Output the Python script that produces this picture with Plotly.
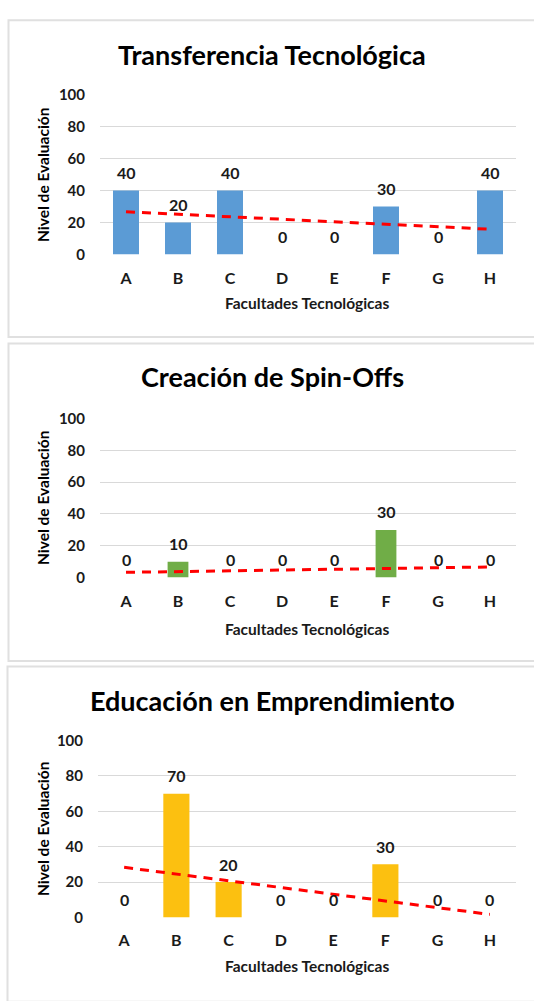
import plotly.graph_objects as go

W, H = 534, 1001

categories = ["A", "B", "C", "D", "E", "F", "G", "H"]
titles = ["Transferencia Tecnológica", "Creación de Spin-Offs", "Educación en Emprendimiento"]
values_transferencia = [40, 20, 40, 0, 0, 30, 0, 40]
values_spinoffs = [0, 10, 0, 0, 0, 30, 0, 0]
values_educacion = [0, 70, 20, 0, 0, 30, 0, 0]
# trendline values at first and last category
trend_transferencia = [26.7, 15.8]
trend_spinoffs = [3.3, 6.7]
trend_educacion = [28.3, 1.7]
y_ticks = [0, 20, 40, 60, 80, 100]
x_title = "Facultades Tecnológicas"
y_title = "Nivel de Evaluación"

series = [values_transferencia, values_spinoffs, values_educacion]
trends = [trend_transferencia, trend_spinoffs, trend_educacion]
colors = ["#5b9bd5", "#70ad47", "#fcc010"]
bar_widths = [0.5, 0.4, 0.5]

# layout in pixels
panels = [
    dict(box=(8.5, 10.5, 333), plot=(100, 516, 86, 249), title_y=45, xt_y=298, yt_y=168),
    dict(box=(8.5, 339.5, 663), plot=(100, 516, 416, 578), title_y=373, xt_y=630, yt_y=497),
    dict(box=(7.5, 668.5, 1010), plot=(98, 516, 744, 924), title_y=703, xt_y=973, yt_y=834),
]

FONT = "Lato"
TXT = "#1a1a1a"

def px_x(x):
    return x / W

def px_y(y):
    return 1 - y / H

fig = go.Figure()
layout = dict(
    width=W, height=H, margin=dict(l=0, r=0, t=0, b=0),
    paper_bgcolor="white", plot_bgcolor="white", showlegend=False,
    font=dict(family=FONT, color=TXT), shapes=[], annotations=[],
)

for i, (vals, tr, col, bw, p) in enumerate(zip(series, trends, colors, bar_widths, panels)):
    n = "" if i == 0 else str(i + 1)
    xa, ya = "x" + n, "y" + n
    x0, x1, y0, y1 = p["plot"]
    fig.add_trace(go.Bar(x=categories, y=vals, marker=dict(color=col, line=dict(width=0)),
                         width=bw, xaxis=xa, yaxis=ya, hoverinfo="skip"))
    fig.add_trace(go.Scatter(x=[categories[0], categories[-1]], y=tr, mode="lines",
                             line=dict(color="#ff0000", width=3, dash="9px,7px"),
                             xaxis=xa, yaxis=ya, hoverinfo="skip"))
    layout["xaxis" + n] = dict(
        domain=[px_x(x0), px_x(x1)], anchor=ya, type="category", range=[-0.5, 7.5],
        showgrid=False, showline=False, zeroline=False, ticks="",
        tickfont=dict(family=FONT, size=16, color=TXT, weight="bold"), ticklabelstandoff=12,
    )
    layout["yaxis" + n] = dict(
        domain=[px_y(y1), px_y(y0)], anchor=xa, range=[0, 100], tickvals=y_ticks,
        showgrid=True, gridcolor="#d9d9d9", gridwidth=1, zeroline=False, showline=False,
        ticks="", tickfont=dict(family=FONT, size=15, color=TXT, weight="bold"),
        ticklabelstandoff=14,
    )
    bx, by0, by1 = p["box"]
    layout["shapes"].append(dict(type="rect", xref="paper", yref="paper",
                                 x0=px_x(bx), x1=px_x(560), y0=px_y(by1), y1=px_y(by0),
                                 line=dict(color="#e0e0e0", width=2), layer="below"))
    layout["annotations"].append(dict(text="<b>%s</b>" % titles[i], x=px_x(272), y=px_y(p["title_y"]),
                                      xref="paper", yref="paper", showarrow=False,
                                      xanchor="center", yanchor="middle",
                                      font=dict(family=FONT, size=27, color="#000000")))
    layout["annotations"].append(dict(text="<b>%s</b>" % x_title, x=px_x(307), y=px_y(p["xt_y"]),
                                      xref="paper", yref="paper", showarrow=False,
                                      xanchor="center", yanchor="middle",
                                      font=dict(family=FONT, size=15.5, color=TXT)))
    layout["annotations"].append(dict(text="<b>%s</b>" % y_title, x=px_x(43), y=px_y(p["yt_y"]),
                                      xref="paper", yref="paper", showarrow=False, textangle=-90,
                                      xanchor="center", yanchor="middle",
                                      font=dict(family=FONT, size=15.5, color="#000000")))
    for c, v in zip(categories, vals):
        layout["annotations"].append(dict(text="<b>%d</b>" % v, x=c, y=v, xref=xa, yref=ya,
                                          showarrow=False, yshift=18, xanchor="center",
                                          yanchor="middle",
                                          font=dict(family=FONT, size=16, color=TXT)))

fig.update_layout(**layout)
css_fix = (
    "document.documentElement.style.margin='0';"
    "document.documentElement.style.padding='0';"
    "document.documentElement.style.overflow='hidden';"
    "document.body.style.margin='0';"
    "document.body.style.padding='0';"
    "document.body.style.overflow='hidden';"
)
fig.write_html("out.html", post_script=css_fix, config={"displayModeBar": False})
